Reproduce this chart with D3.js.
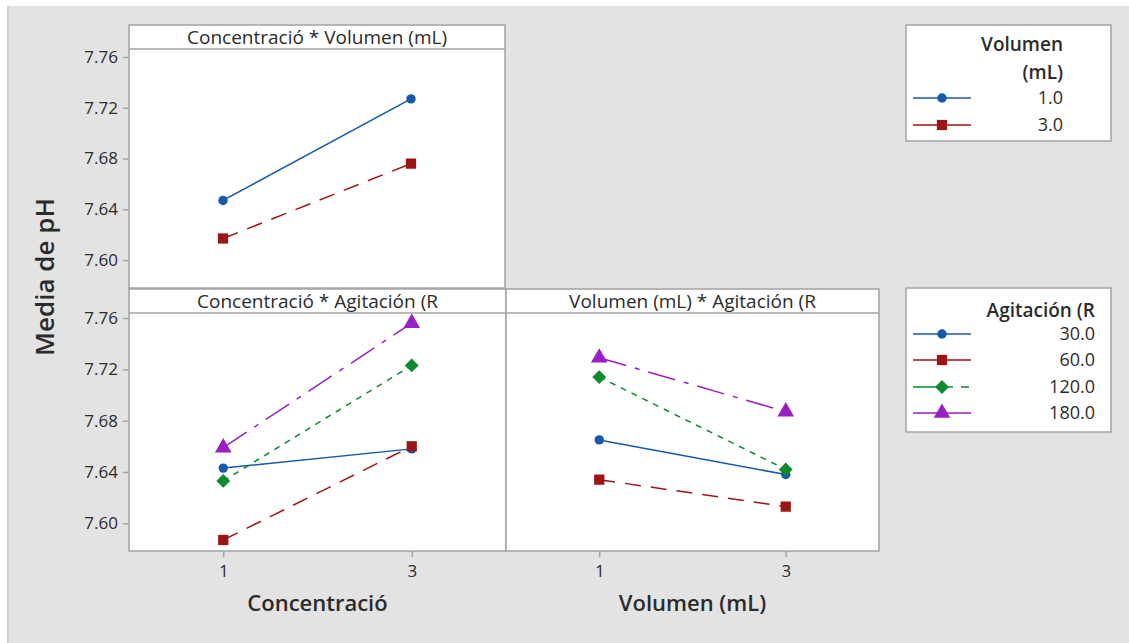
<!DOCTYPE html>
<html>
<head>
<meta charset="utf-8">
<script src="https://cdn.jsdelivr.net/npm/d3@7"></script>
<style>
  body { margin: 0; background: #fff; }
  text { font-family: "Open Sans", "Noto Sans", sans-serif; fill: #2b2b2b; }
</style>
</head>
<body>
<div id="chart"></div>
<script>
// factor levels and tick labels
var xLevels = [1, 3];
var volLabels = ["1.0", "3.0"];
var agitLabels = ["30.0", "60.0", "120.0", "180.0"];
var yTicks = [7.60, 7.64, 7.68, 7.72, 7.76];

// Concentració * Volumen (mL)  (values at Concentració 1 and 3)
var concVol_1 = [7.647, 7.727];
var concVol_3 = [7.617, 7.676];

// Concentració * Agitación (R  (values at Concentració 1 and 3)
var concAgit_30 = [7.643, 7.658];
var concAgit_60 = [7.587, 7.660];
var concAgit_120 = [7.633, 7.723];
var concAgit_180 = [7.659, 7.756];

// Volumen (mL) * Agitación (R  (values at Volumen 1 and 3)
var volAgit_30 = [7.665, 7.638];
var volAgit_60 = [7.634, 7.613];
var volAgit_120 = [7.714, 7.642];
var volAgit_180 = [7.729, 7.687];

var colors = ["#1559a8", "#9c1515", "#0b8a2e", "#991ec4"];
var dashes = [null, "16,10", "6,6", "28,9,5,9"];
var legendDashes = [null, null, "40,8,8,10", null];
var shapes = [d3.symbolCircle, d3.symbolSquare, d3.symbolSquare, d3.symbolTriangle];
var shapeSize = [70, 105, 95, 120];
var shapeRot = [0, 0, 45, 0];

var width = 1129, height = 643;

var svg = d3.select("#chart")
    .append("svg")
        .attr("width", width)
        .attr("height", height);

// grey background
svg.append("rect")
    .attr("x", 7).attr("y", 6)
    .attr("width", width - 7).attr("height", height - 6)
    .attr("fill", "#e3e3e3");
svg.append("line")
    .attr("x1", 8).attr("x2", 8).attr("y1", 6).attr("y2", height)
    .attr("stroke", "#cfcfcf").attr("stroke-width", 2);

var frameColor = "#a3a3a3";

function marker(g, i, cx, cy) {
    g.append("path")
        .attr("d", d3.symbol().type(shapes[i]).size(shapeSize[i]))
        .attr("transform", "translate(" + cx + "," + cy + ") rotate(" + shapeRot[i] + ")")
        .attr("fill", colors[i]);
}

function drawPanel(p) {
    var g = svg.append("g");
    var x = d3.scaleLinear().domain([0, 4]).range([p.x0, p.x1]);
    var y = d3.scaleLinear().domain(p.yDomain).range([p.bottom, p.stripBottom]);

    // plot area + strip
    g.append("rect")
        .attr("x", p.x0).attr("y", p.top)
        .attr("width", p.x1 - p.x0).attr("height", p.bottom - p.top)
        .attr("fill", "#fff")
        .attr("stroke", frameColor).attr("stroke-width", 1.5);
    g.append("line")
        .attr("x1", p.x0).attr("x2", p.x1)
        .attr("y1", p.stripBottom).attr("y2", p.stripBottom)
        .attr("stroke", frameColor).attr("stroke-width", 1.5);
    g.append("text")
        .attr("x", (p.x0 + p.x1) / 2)
        .attr("y", (p.top + p.stripBottom) / 2)
        .attr("dy", "0.36em")
        .attr("text-anchor", "middle")
        .attr("font-size", "19px")
        .attr("font-weight", 500)
        .text(p.title);

    // lines and points
    var line = d3.line()
        .x(function(d, k) { return x(xLevels[k]); })
        .y(function(d) { return y(d); });
    p.series.forEach(function(vals, i) {
        g.append("path")
            .datum(vals)
            .attr("d", line)
            .attr("fill", "none")
            .attr("stroke", colors[i])
            .attr("stroke-width", 1.5)
            .attr("stroke-dasharray", dashes[i]);
    });
    p.series.forEach(function(vals, i) {
        vals.forEach(function(v, k) {
            marker(g, i, x(xLevels[k]), y(v));
        });
    });

    // y axis
    if (p.yAxis) {
        var ya = g.append("g")
            .attr("transform", "translate(" + p.x0 + ",0)")
            .call(d3.axisLeft(y).tickValues(yTicks).tickFormat(d3.format(".2f"))
                .tickSize(6).tickPadding(5));
        ya.select(".domain").remove();
        ya.selectAll("line").attr("stroke", frameColor).attr("stroke-width", 1.5);
        ya.selectAll("text").attr("font-size", "17px").attr("font-family", null).attr("fill", "#333");
    }
    // x axis
    if (p.xTitle) {
        var xa = g.append("g")
            .attr("transform", "translate(0," + p.bottom + ")")
            .call(d3.axisBottom(x).tickValues(xLevels).tickFormat(d3.format("d"))
                .tickSize(6).tickPadding(8));
        xa.select(".domain").remove();
        xa.selectAll("line").attr("stroke", frameColor).attr("stroke-width", 1.5);
        xa.selectAll("text").attr("font-size", "17px").attr("font-family", null).attr("fill", "#333");

        g.append("text")
            .attr("x", (p.x0 + p.x1) / 2)
            .attr("y", p.bottom + 60)
            .attr("text-anchor", "middle")
            .attr("font-size", "22px")
            .attr("font-weight", 600)
            .text(p.xTitle);
    }
}

drawPanel({ x0: 129, x1: 505, top: 25, stripBottom: 49, bottom: 288,
    yDomain: [7.578, 7.7663], title: "Concentració * Volumen (mL)",
    series: [concVol_1, concVol_3], yAxis: true });
drawPanel({ x0: 129, x1: 506, top: 289, stripBottom: 313, bottom: 551,
    yDomain: [7.5784, 7.7639], title: "Concentració * Agitación (R",
    series: [concAgit_30, concAgit_60, concAgit_120, concAgit_180], yAxis: true,
    xTitle: "Concentració" });
drawPanel({ x0: 506, x1: 879, top: 289, stripBottom: 313, bottom: 551,
    yDomain: [7.5784, 7.7639], title: "Volumen (mL) * Agitación (R",
    series: [volAgit_30, volAgit_60, volAgit_120, volAgit_180],
    xTitle: "Volumen (mL)" });

// y title
svg.append("text")
    .attr("transform", "translate(54,277) rotate(-90)")
    .attr("text-anchor", "middle")
    .attr("font-size", "26px")
    .attr("font-weight", 600)
    .text("Media de pH");

// legends
function drawLegend(lg) {
    var g = svg.append("g");
    g.append("rect")
        .attr("x", 906).attr("y", lg.top)
        .attr("width", 205).attr("height", lg.bottom - lg.top)
        .attr("fill", "#fff")
        .attr("stroke", frameColor).attr("stroke-width", 1.5);
    lg.title.forEach(function(t, k) {
        g.append("text")
            .attr("x", lg.right).attr("y", lg.titleY[k])
            .attr("dy", "0.36em")
            .attr("text-anchor", "end")
            .attr("font-size", "19px")
            .attr("font-weight", 600)
            .text(t);
    });
    lg.labels.forEach(function(t, i) {
        var yy = lg.itemY[i];
        g.append("line")
            .attr("x1", 913).attr("x2", 971).attr("y1", yy).attr("y2", yy)
            .attr("stroke", colors[i]).attr("stroke-width", 1.5)
            .attr("stroke-dasharray", legendDashes[i]);
        marker(g, i, 942, yy);
        g.append("text")
            .attr("x", lg.right).attr("y", yy)
            .attr("dy", "0.36em")
            .attr("text-anchor", "end")
            .attr("font-size", "18px")
            .text(t);
    });
}

drawLegend({ top: 25, bottom: 141, right: 1063, title: ["Volumen", "(mL)"],
    titleY: [44, 72], labels: volLabels, itemY: [98, 125] });
drawLegend({ top: 288, bottom: 432, right: 1095, title: ["Agitación (R"],
    titleY: [310], labels: agitLabels, itemY: [334, 360, 387, 413] });
</script>
</body>
</html>
